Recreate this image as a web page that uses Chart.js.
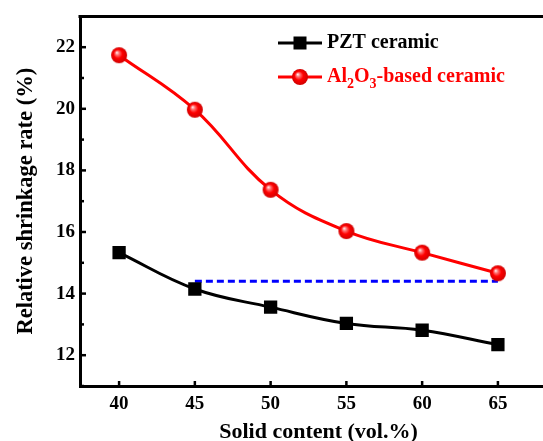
<!DOCTYPE html>
<html>
<head>
<meta charset="utf-8">
<script src="https://cdn.jsdelivr.net/npm/chart.js@4"></script>
<style>
  html, body { margin: 0; padding: 0; overflow: hidden; background: #fff; }
  .chart { position: relative; width: 568px; height: 441px; }
</style>
</head>
<body>
<div class="chart"><canvas id="c"></canvas></div>
<script>
// solid content (vol.%)
const solidContent = [40, 45, 50, 55, 60, 65];
// relative shrinkage rate (%)
const pztShrinkage = [15.33, 14.15, 13.56, 13.03, 12.81, 12.34];
const aluminaShrinkage = [21.74, 19.97, 17.37, 16.03, 15.33, 14.66];
// dashed reference line
const refX = [45, 65];
const refY = [14.4, 14.4];

const xTicks = [40, 45, 50, 55, 60, 65];
const yTicks = [11, 12, 13, 14, 15, 16, 17, 18, 19, 20, 21, 22, 23];

const FONT = "'Liberation Serif', 'Times New Roman', serif";

// shaded red ball used as the Al2O3 marker
function makeBall(r) {
  const c = document.createElement("canvas");
  c.width = c.height = r * 2 + 2;
  const g = c.getContext("2d");
  const cx = r + 1, cy = r + 1;
  const grad = g.createRadialGradient(cx - r * 0.3, cy - r * 0.35, 0, cx, cy, r);
  grad.addColorStop(0, "#ffffff");
  grad.addColorStop(0.25, "#ff7070");
  grad.addColorStop(0.55, "#ff0000");
  grad.addColorStop(1, "#d00000");
  g.fillStyle = grad;
  g.beginPath();
  g.arc(cx, cy, r, 0, Math.PI * 2);
  g.fill();
  return c;
}
const ball = makeBall(8);

function toPoints(xs, ys) {
  return xs.map((x, i) => ({ x: x, y: ys[i] }));
}

// top frame line and inward tick marks
const framePlugin = {
  id: "frame",
  afterDatasetsDraw(chart) {
    const { ctx, chartArea, scales } = chart;
    ctx.save();
    ctx.strokeStyle = "#000";
    ctx.lineWidth = 3;
    ctx.beginPath();
    ctx.moveTo(chartArea.left - 1.5, chartArea.top);
    ctx.lineTo(chartArea.right, chartArea.top);
    ctx.stroke();
    ctx.lineWidth = 2.5;
    yTicks.forEach((v) => {
      const y = scales.y.getPixelForValue(v);
      const len = v % 2 === 0 ? 6 : 4;
      ctx.beginPath();
      ctx.moveTo(chartArea.left, y);
      ctx.lineTo(chartArea.left + len, y);
      ctx.stroke();
    });
    xTicks.forEach((v) => {
      const x = scales.x.getPixelForValue(v);
      ctx.beginPath();
      ctx.moveTo(x, chartArea.bottom);
      ctx.lineTo(x, chartArea.bottom - 5);
      ctx.stroke();
    });
    ctx.restore();
  }
};

// legend with subscripts
const legendPlugin = {
  id: "customLegend",
  afterDraw(chart) {
    const ctx = chart.ctx;
    ctx.save();
    ctx.textBaseline = "middle";
    ctx.textAlign = "left";
    ctx.lineWidth = 3;

    // PZT row
    let y = 43;
    ctx.strokeStyle = "#000";
    ctx.beginPath();
    ctx.moveTo(278, y);
    ctx.lineTo(322, y);
    ctx.stroke();
    ctx.fillStyle = "#000";
    ctx.fillRect(300 - 6.5, y - 6.5, 13, 13);
    ctx.font = "bold 20px " + FONT;
    ctx.fillText("PZT ceramic", 327, y);

    // Al2O3 row
    y = 77;
    ctx.strokeStyle = "#ff0000";
    ctx.beginPath();
    ctx.moveTo(278, y);
    ctx.lineTo(322, y);
    ctx.stroke();
    ctx.drawImage(ball, 300 - ball.width / 2, y - ball.height / 2);
    ctx.fillStyle = "#ff0000";
    let x = 327;
    const parts = [["Al", false], ["2", true], ["O", false], ["3", true], ["-based ceramic", false]];
    parts.forEach(([t, sub]) => {
      ctx.font = sub ? "bold 14px " + FONT : "bold 20px " + FONT;
      ctx.fillText(t, x, sub ? y + 7 : y);
      x += ctx.measureText(t).width;
    });
    ctx.restore();
  }
};

new Chart(document.getElementById("c"), {
  type: "line",
  data: {
    datasets: [
      {
        label: "PZT ceramic",
        data: toPoints(solidContent, pztShrinkage),
        borderColor: "#000",
        backgroundColor: "#000",
        borderWidth: 3,
        pointStyle: "rect",
        pointRadius: 9.4,
        pointBorderWidth: 0,
        tension: 0.4
      },
      {
        label: "Al2O3-based ceramic",
        data: toPoints(solidContent, aluminaShrinkage),
        borderColor: "#ff0000",
        backgroundColor: "#ff0000",
        borderWidth: 3,
        pointStyle: ball,
        pointRadius: 8,
        tension: 0.4
      },
      {
        label: "reference",
        data: toPoints(refX, refY),
        borderColor: "#0000ff",
        borderWidth: 3,
        borderDash: [7, 4],
        pointRadius: 0
      }
    ]
  },
  options: {
    responsive: true,
    maintainAspectRatio: false,
    animation: false,
    events: [],
    layout: { padding: { top: 13, right: 0, left: 0, bottom: 0 } },
    plugins: {
      legend: { display: false },
      tooltip: { enabled: false }
    },
    scales: {
      x: {
        type: "linear",
        min: 37.42,
        max: 68.9,
        afterBuildTicks: (s) => { s.ticks = xTicks.map((v) => ({ value: v })); },
        afterFit: (s) => { s.height = 55; },
        grid: { display: true, drawOnChartArea: false, drawTicks: false },
        border: { display: true, color: "#000", width: 3 },
        ticks: {
          padding: 7,
          color: "#000",
          font: { family: FONT, size: 19, weight: "bold" }
        },
        title: {
          display: true,
          text: "Solid content (vol.%)",
          color: "#000",
          padding: { top: 0, bottom: -5 },
          font: { family: FONT, size: 22, weight: "bold" }
        }
      },
      y: {
        min: 11,
        max: 23,
        afterBuildTicks: (s) => { s.ticks = yTicks.map((v) => ({ value: v })); },
        afterFit: (s) => { s.width = 80; },
        grid: { display: true, drawOnChartArea: false, drawTicks: false },
        border: { display: true, color: "#000", width: 3 },
        ticks: {
          padding: 5,
          color: "#000",
          font: { family: FONT, size: 19, weight: "bold" },
          callback: (v) => (v % 2 === 0 ? String(v) : "")
        },
        title: {
          display: true,
          text: "Relative shrinkage rate (%)",
          color: "#000",
          padding: { top: 13, bottom: 0 },
          font: { family: FONT, size: 22.5, weight: "bold" }
        }
      }
    }
  },
  plugins: [framePlugin, legendPlugin]
});
</script>
</body>
</html>
